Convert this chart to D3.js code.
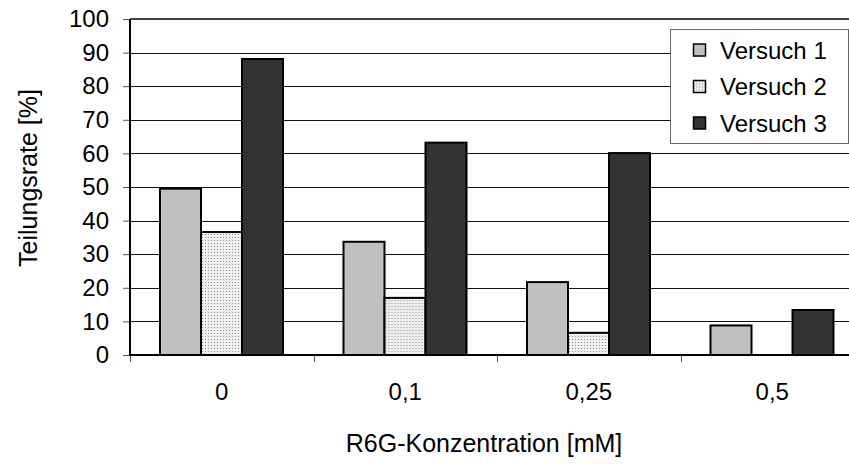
<!DOCTYPE html>
<html>
<head>
<meta charset="utf-8">
<script src="https://cdn.jsdelivr.net/npm/d3@7"></script>
<style>
  body { margin: 0; background: #fff; }
  svg { display: block; font-family: "Liberation Sans", Arial, sans-serif; }
</style>
</head>
<body>
<div id="chart"></div>
<script>
const categories = ["0", "0,1", "0,25", "0,5"];
const seriesNames = ["Versuch 1", "Versuch 2", "Versuch 3"];
const versuch1 = [49.5, 33.7, 21.7, 8.8];
const versuch2 = [36.6, 17.0, 6.6, 0];
const versuch3 = [88.1, 63.2, 60.1, 13.4];
const yTicks = [0, 10, 20, 30, 40, 50, 60, 70, 80, 90, 100];

const seriesValues = [versuch1, versuch2, versuch3];
const fills = ["#c0c0c0", "url(#dots)", "#333333"];

const width = 849, height = 465;
const plotLeft = 130, plotTop = 19, plotBottom = 355;

const svg = d3.select("#chart").append("svg")
  .attr("width", width)
  .attr("height", height);

// dotted fill for Versuch 2
const pat = svg.append("defs").append("pattern")
  .attr("id", "dots")
  .attr("width", 3).attr("height", 3)
  .attr("patternUnits", "userSpaceOnUse");
pat.append("rect").attr("width", 3).attr("height", 3).attr("fill", "#eeeeee");
pat.append("rect").attr("width", 1).attr("height", 1).attr("fill", "#909090");

const x0 = d3.scaleBand().domain(categories).range([plotLeft, 864]);
const bw = x0.bandwidth();
const x1 = d3.scaleBand().domain(seriesNames).range([bw * 30 / 183.5, bw * 153 / 183.5]);
const y = d3.scaleLinear().domain([0, 100]).range([plotBottom, plotTop]);

// gridlines
svg.append("g")
  .selectAll("line")
  .data(yTicks.filter(d => d > 0 && d < 100))
  .join("line")
  .attr("x1", plotLeft).attr("x2", width)
  .attr("y1", d => Math.round(y(d)) + 0.5).attr("y2", d => Math.round(y(d)) + 0.5)
  .attr("stroke", "#111").attr("stroke-width", 1);

// top border
svg.append("line")
  .attr("x1", plotLeft).attr("x2", width)
  .attr("y1", y(100)).attr("y2", y(100))
  .attr("stroke", "#000").attr("stroke-width", 1.5);

// bars
const rows = categories.map((c, i) => ({ cat: c, vals: seriesNames.map((s, j) => ({ s, j, v: seriesValues[j][i] })) }));
svg.append("g")
  .selectAll("g")
  .data(rows)
  .join("g")
  .attr("transform", d => `translate(${x0(d.cat)},0)`)
  .selectAll("rect")
  .data(d => d.vals.filter(e => e.v > 0))
  .join("rect")
  .attr("x", d => x1(d.s))
  .attr("width", x1.bandwidth())
  .attr("y", d => y(d.v))
  .attr("height", d => y(0) - y(d.v))
  .attr("fill", d => fills[d.j])
  .attr("stroke", "#000")
  .attr("stroke-width", 2);

// y axis
const yAxis = svg.append("g")
  .attr("transform", `translate(${plotLeft},0)`)
  .call(d3.axisLeft(y).tickValues(yTicks).tickSize(7).tickPadding(14));
yAxis.select(".domain").remove();
yAxis.selectAll(".tick line").attr("stroke", "#555");
yAxis.selectAll("text").attr("font-size", 24).attr("fill", "#000")
  .attr("font-family", "'Liberation Sans', Arial, sans-serif");
svg.append("line")
  .attr("x1", plotLeft).attr("x2", plotLeft)
  .attr("y1", plotTop).attr("y2", plotBottom + 1)
  .attr("stroke", "#000").attr("stroke-width", 2);

// x axis
svg.append("g")
  .selectAll("line")
  .data(categories)
  .join("line")
  .attr("x1", d => Math.round(x0(d)) + 0.5).attr("x2", d => Math.round(x0(d)) + 0.5)
  .attr("y1", plotBottom).attr("y2", plotBottom + 7)
  .attr("stroke", "#555");
svg.append("g")
  .selectAll("text")
  .data(categories)
  .join("text")
  .attr("x", d => x0(d) + bw / 2)
  .attr("y", 400)
  .attr("text-anchor", "middle")
  .attr("font-size", 24)
  .text(d => d);
svg.append("line")
  .attr("x1", plotLeft - 1).attr("x2", width)
  .attr("y1", plotBottom).attr("y2", plotBottom)
  .attr("stroke", "#000").attr("stroke-width", 2);

// axis titles
svg.append("text")
  .attr("x", 484).attr("y", 452)
  .attr("text-anchor", "middle")
  .attr("font-size", 25)
  .text("R6G-Konzentration [mM]");
svg.append("text")
  .attr("transform", "translate(37,178) rotate(-90)")
  .attr("text-anchor", "middle")
  .attr("font-size", 25)
  .text("Teilungsrate [%]");

// legend
const legend = svg.append("g");
legend.append("rect")
  .attr("x", 670.5).attr("y", 29.5)
  .attr("width", 178).attr("height", 114)
  .attr("fill", "#fff").attr("stroke", "#666");
const item = legend.selectAll("g.item")
  .data(seriesNames)
  .join("g")
  .attr("class", "item")
  .attr("transform", (d, i) => `translate(0,${50 + i * 36.5})`);
item.append("rect")
  .attr("x", 693.5).attr("y", -6)
  .attr("width", 12).attr("height", 12)
  .attr("fill", (d, i) => fills[i])
  .attr("stroke", "#000").attr("stroke-width", 1.5);
item.append("text")
  .attr("x", 720).attr("y", 8.5)
  .attr("font-size", 24)
  .text(d => d);
</script>
</body>
</html>
